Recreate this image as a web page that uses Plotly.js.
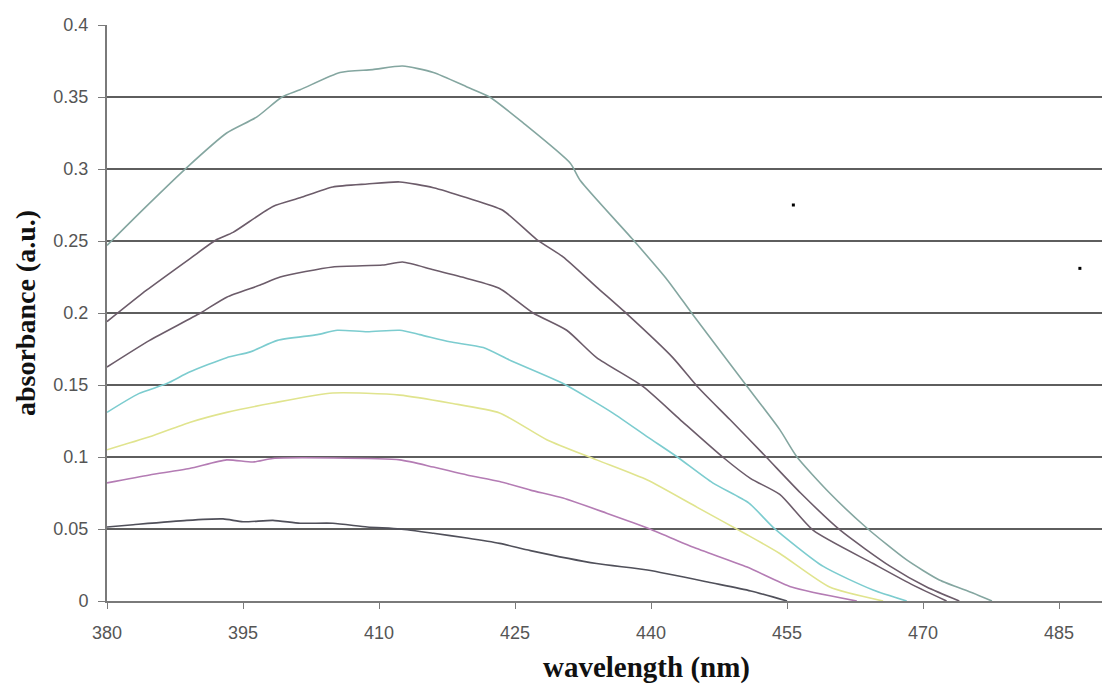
<!DOCTYPE html>
<html>
<head>
<meta charset="utf-8">
<script src="https://cdn.plot.ly/plotly-3.0.1.min.js"></script>
<style>html,body{margin:0;padding:0;background:#fff;}#chart{width:1102px;height:684px;}</style>
</head>
<body>
<div id="chart"></div>
<script>
// Series data (wavelength nm, absorbance a.u.)
const s1x = [380, 384, 388.8, 393.2, 396.5, 399.3, 401.3, 405.7, 409.3, 412.6, 416, 419.7, 422.2, 425.9, 431.1, 432.2, 438, 441.8, 444.6, 450.6, 454.2, 456.1, 459.7, 463.8, 468.2, 471.8, 475.5, 477.6];
const s1y = [0.247, 0.272, 0.301, 0.325, 0.336, 0.350, 0.355, 0.367, 0.369, 0.3715, 0.367, 0.357, 0.350, 0.332, 0.304, 0.292, 0.251, 0.223, 0.199, 0.149, 0.119, 0.100, 0.075, 0.0507, 0.0285, 0.0146, 0.0056, 0];

const s2x = [380, 384.4, 389.2, 392.1, 393.9, 398.3, 401.3, 404.9, 408.7, 412.3, 416, 419.7, 423.6, 427.4, 430.3, 434, 437.4, 442.4, 445.1, 448.7, 452.7, 456.5, 460.9, 466.4, 470.4, 474];
const s2y = [0.194, 0.216, 0.238, 0.251, 0.256, 0.274, 0.280, 0.2875, 0.2896, 0.291, 0.287, 0.280, 0.2715, 0.251, 0.239, 0.218, 0.199, 0.169, 0.149, 0.126, 0.100, 0.075, 0.049, 0.024, 0.0097, 0];

const s3x = [380, 384.7, 390.3, 393.2, 396.9, 399.1, 404.9, 410.4, 412.6, 416, 419.7, 423.3, 427, 430.7, 434, 439.1, 443.2, 447.9, 451, 454.2, 457.9, 464.5, 468.9, 472.6];
const s3y = [0.1625, 0.181, 0.200, 0.211, 0.2194, 0.225, 0.232, 0.2333, 0.2354, 0.230, 0.224, 0.217, 0.200, 0.188, 0.169, 0.149, 0.126, 0.100, 0.085, 0.074, 0.049, 0.026, 0.011, 0];

const s4x = [380, 383.5, 386.6, 389.1, 393.2, 395.8, 398.8, 403.2, 405.4, 408.7, 412.3, 414.5, 417.8, 421.5, 424.5, 430.3, 435.8, 439.6, 442.9, 446.8, 450.8, 453.5, 459, 464.5, 468.2];
const s4y = [0.131, 0.144, 0.151, 0.159, 0.169, 0.173, 0.181, 0.185, 0.188, 0.187, 0.188, 0.185, 0.180, 0.176, 0.167, 0.151, 0.1305, 0.114, 0.100, 0.082, 0.068, 0.051, 0.024, 0.0076, 0];

const s5x = [380, 384.7, 389.1, 393.2, 398.3, 404.9, 412.3, 417.8, 423.3, 428.5, 434, 439.6, 445.1, 450.6, 454.2, 459.7, 465.6];
const s5y = [0.105, 0.114, 0.124, 0.131, 0.1375, 0.1444, 0.143, 0.1375, 0.1306, 0.112, 0.098, 0.084, 0.065, 0.046, 0.033, 0.0097, 0];

const s6x = [380, 384.7, 389.1, 393.2, 396.1, 398.3, 404.9, 412.3, 416, 419.7, 423.3, 426.7, 430.3, 435.1, 439.6, 444.6, 450.6, 455.5, 462.7];
const s6y = [0.082, 0.0875, 0.092, 0.098, 0.0965, 0.099, 0.0993, 0.098, 0.093, 0.0875, 0.083, 0.077, 0.0715, 0.061, 0.0507, 0.0375, 0.0236, 0.0097, 0];

const s7x = [380, 382.9, 388.8, 392.8, 395, 398.3, 401.3, 404.9, 408.7, 412.3, 416, 419.7, 423.3, 426.7, 434, 439.6, 446.8, 451, 455];
const s7y = [0.0514, 0.053, 0.056, 0.057, 0.055, 0.056, 0.054, 0.054, 0.0514, 0.050, 0.047, 0.0437, 0.040, 0.035, 0.026, 0.0215, 0.0125, 0.007, 0];

// stray dots in the original
const dotX = [455.7, 487.3];
const dotY = [0.275, 0.231];

const xTicks = [380, 395, 410, 425, 440, 455, 470, 485];
const yTicks = [0, 0.05, 0.1, 0.15, 0.2, 0.25, 0.3, 0.35, 0.4];
const yTickText = ['0', '0.05', '0.1', '0.15', '0.2', '0.25', '0.3', '0.35', '0.4'];
const gridVals = [0.05, 0.1, 0.15, 0.2, 0.25, 0.3, 0.35];
const xTitle = 'wavelength (nm)';
const yTitle = 'absorbance (a.u.)';

const series = [
  {x: s1x, y: s1y, c: '#84a6a0'},
  {x: s2x, y: s2y, c: '#6c5c6a'},
  {x: s3x, y: s3y, c: '#6c5c6a'},
  {x: s4x, y: s4y, c: '#7ccccf'},
  {x: s5x, y: s5y, c: '#e0e48e'},
  {x: s6x, y: s6y, c: '#b47cb4'},
  {x: s7x, y: s7y, c: '#50505a'}
];

const traces = series.map(s => ({
  x: s.x, y: s.y, type: 'scatter', mode: 'lines',
  line: {color: s.c, width: 1.6, shape: 'spline', smoothing: 0.6},
  hoverinfo: 'skip', cliponaxis: false
}));
traces.push({x: dotX, y: dotY, type: 'scatter', mode: 'markers',
  marker: {color: '#000', size: 3, symbol: 'square'}, hoverinfo: 'skip'});

const shapes = gridVals.map(v => ({
  type: 'line', xref: 'paper', yref: 'y', x0: 0, x1: 1, y0: v, y1: v,
  line: {color: '#5e5e5e', width: 2}, layer: 'below'
}));

const tickFont = {family: 'Liberation Sans, Arial, sans-serif', size: 18, color: '#555'};
const titleFont = {family: 'Liberation Serif, Times New Roman, serif', size: 28, color: '#111', weight: 'bold'};

const layout = {
  width: 1102, height: 684,
  margin: {l: 107, r: 0, t: 25, b: 83},
  paper_bgcolor: '#fff', plot_bgcolor: '#fff',
  showlegend: false,
  shapes: shapes,
  annotations: [{
    text: xTitle, xref: 'paper', yref: 'paper', x: 0.542, y: -0.116,
    xanchor: 'center', yanchor: 'middle', showarrow: false,
    font: {family: titleFont.family, size: 29, color: '#111', weight: 'bold'}
  }],
  xaxis: {
    range: [380, 489.74], tickvals: xTicks, ticktext: xTicks.map(String),
    showgrid: false, zeroline: false, showline: true, linecolor: '#7a7a7a', linewidth: 2,
    ticks: 'outside', ticklen: 6, tickcolor: '#7a7a7a', tickwidth: 1,
    ticklabelstandoff: 8,
    tickfont: tickFont
  },
  yaxis: {
    range: [0, 0.4], tickvals: yTicks, ticktext: yTickText,
    showgrid: false, zeroline: false, showline: true, linecolor: '#7a7a7a', linewidth: 2,
    ticks: 'outside', ticklen: 7, tickcolor: '#7a7a7a', tickwidth: 1,
    ticklabelstandoff: 6,
    tickfont: tickFont,
    title: {text: yTitle, standoff: 10, font: titleFont}
  }
};

Plotly.newPlot('chart', traces, layout, {displayModeBar: false, staticPlot: true});
</script>
</body>
</html>
